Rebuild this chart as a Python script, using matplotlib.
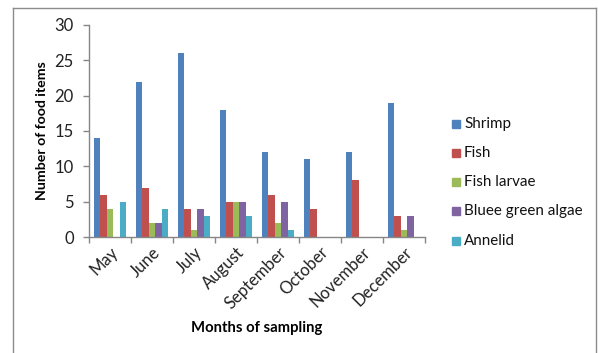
import matplotlib
matplotlib.use("Agg")
import matplotlib.pyplot as plt
from matplotlib.lines import Line2D
import numpy as np

plt.rcParams['font.family'] = ['Lato', 'DejaVu Sans']

months = ["May", "June", "July", "August", "September", "October", "November", "December"]
series_names = ["Shrimp", "Fish", "Fish larvae", "Bluee green algae", "Annelid"]
shrimp = [14, 22, 26, 18, 12, 11, 12, 19]
fish = [6, 7, 4, 5, 6, 4, 8, 3]
fish_larvae = [4, 2, 1, 5, 2, 0, 0, 1]
blue_green_algae = [0, 2, 4, 5, 5, 0, 0, 3]
annelid = [5, 4, 3, 3, 1, 0, 0, 0]
yticks = [0, 5, 10, 15, 20, 25, 30]

colors = ["#4F81BD", "#C0504D", "#9BBB59", "#8064A2", "#4BACC6"]
series = [shrimp, fish, fish_larvae, blue_green_algae, annelid]

W, H = 598, 353
fig = plt.figure(figsize=(W / 100, H / 100), dpi=100)
ax = fig.add_axes([89 / W, 1 - 237 / H, (425 - 89) / W, (237 - 25) / H])

n = len(series)
bw = 1 / 6.5
x = np.arange(len(months))
for i, (vals, c, name) in enumerate(zip(series, colors, series_names)):
    offs = (i - (n - 1) / 2) * bw
    ax.bar(x + offs, vals, width=bw, color=c, edgecolor='none', label=name)

ax.set_xlim(-0.5, len(months) - 0.5)
ax.set_ylim(0, 30)
ax.set_yticks(yticks)
ax.set_yticklabels([str(t) for t in yticks], fontsize=12, color='#222222')
ax.set_xticks(x)
ax.set_xticklabels(months, rotation=45, ha='right', rotation_mode='anchor',
                   fontsize=12, color='#222222')
ax.tick_params(axis='x', length=0, pad=5)
ax.set_xticks(np.arange(len(months) + 1) - 0.5, minor=True)
ax.tick_params(axis='x', which='minor', length=4, color='#868686', width=1)
ax.tick_params(axis='y', length=4, color='#868686', width=1, pad=7)

for s in ['top', 'right']:
    ax.spines[s].set_visible(False)
for s in ['left', 'bottom']:
    ax.spines[s].set_color('#868686')
    ax.spines[s].set_linewidth(1)

ax.set_ylabel("Number of food items", fontsize=10.2, fontweight='bold', labelpad=5)
fig.text(257 / W, 1 - 328 / H, "Months of sampling", fontsize=10.7,
         fontweight='bold', ha='center', va='center')

# legend
leg_y = [124, 153, 182, 211, 241]
for name, c, yy in zip(series_names, colors, leg_y):
    fig.patches.append(plt.Rectangle((452 / W, 1 - (yy + 4) / H), 8 / W, 8 / H,
                                     transform=fig.transFigure, color=c))
    fig.text(464 / W, 1 - yy / H, name, fontsize=10.9, ha='left', va='center',
             color='#111111')

# chart frame
fc = '#8c8c8c'
fig.add_artist(Line2D([13 / W, 13 / W], [0, 1 - 8 / H], color=fc, lw=1))
fig.add_artist(Line2D([13 / W, 596 / W], [1 - 8 / H, 1 - 8 / H], color=fc, lw=1))
fig.add_artist(Line2D([596 / W, 596 / W], [0, 1 - 8 / H], color=fc, lw=1))

fig.savefig("out.png", dpi=100)
